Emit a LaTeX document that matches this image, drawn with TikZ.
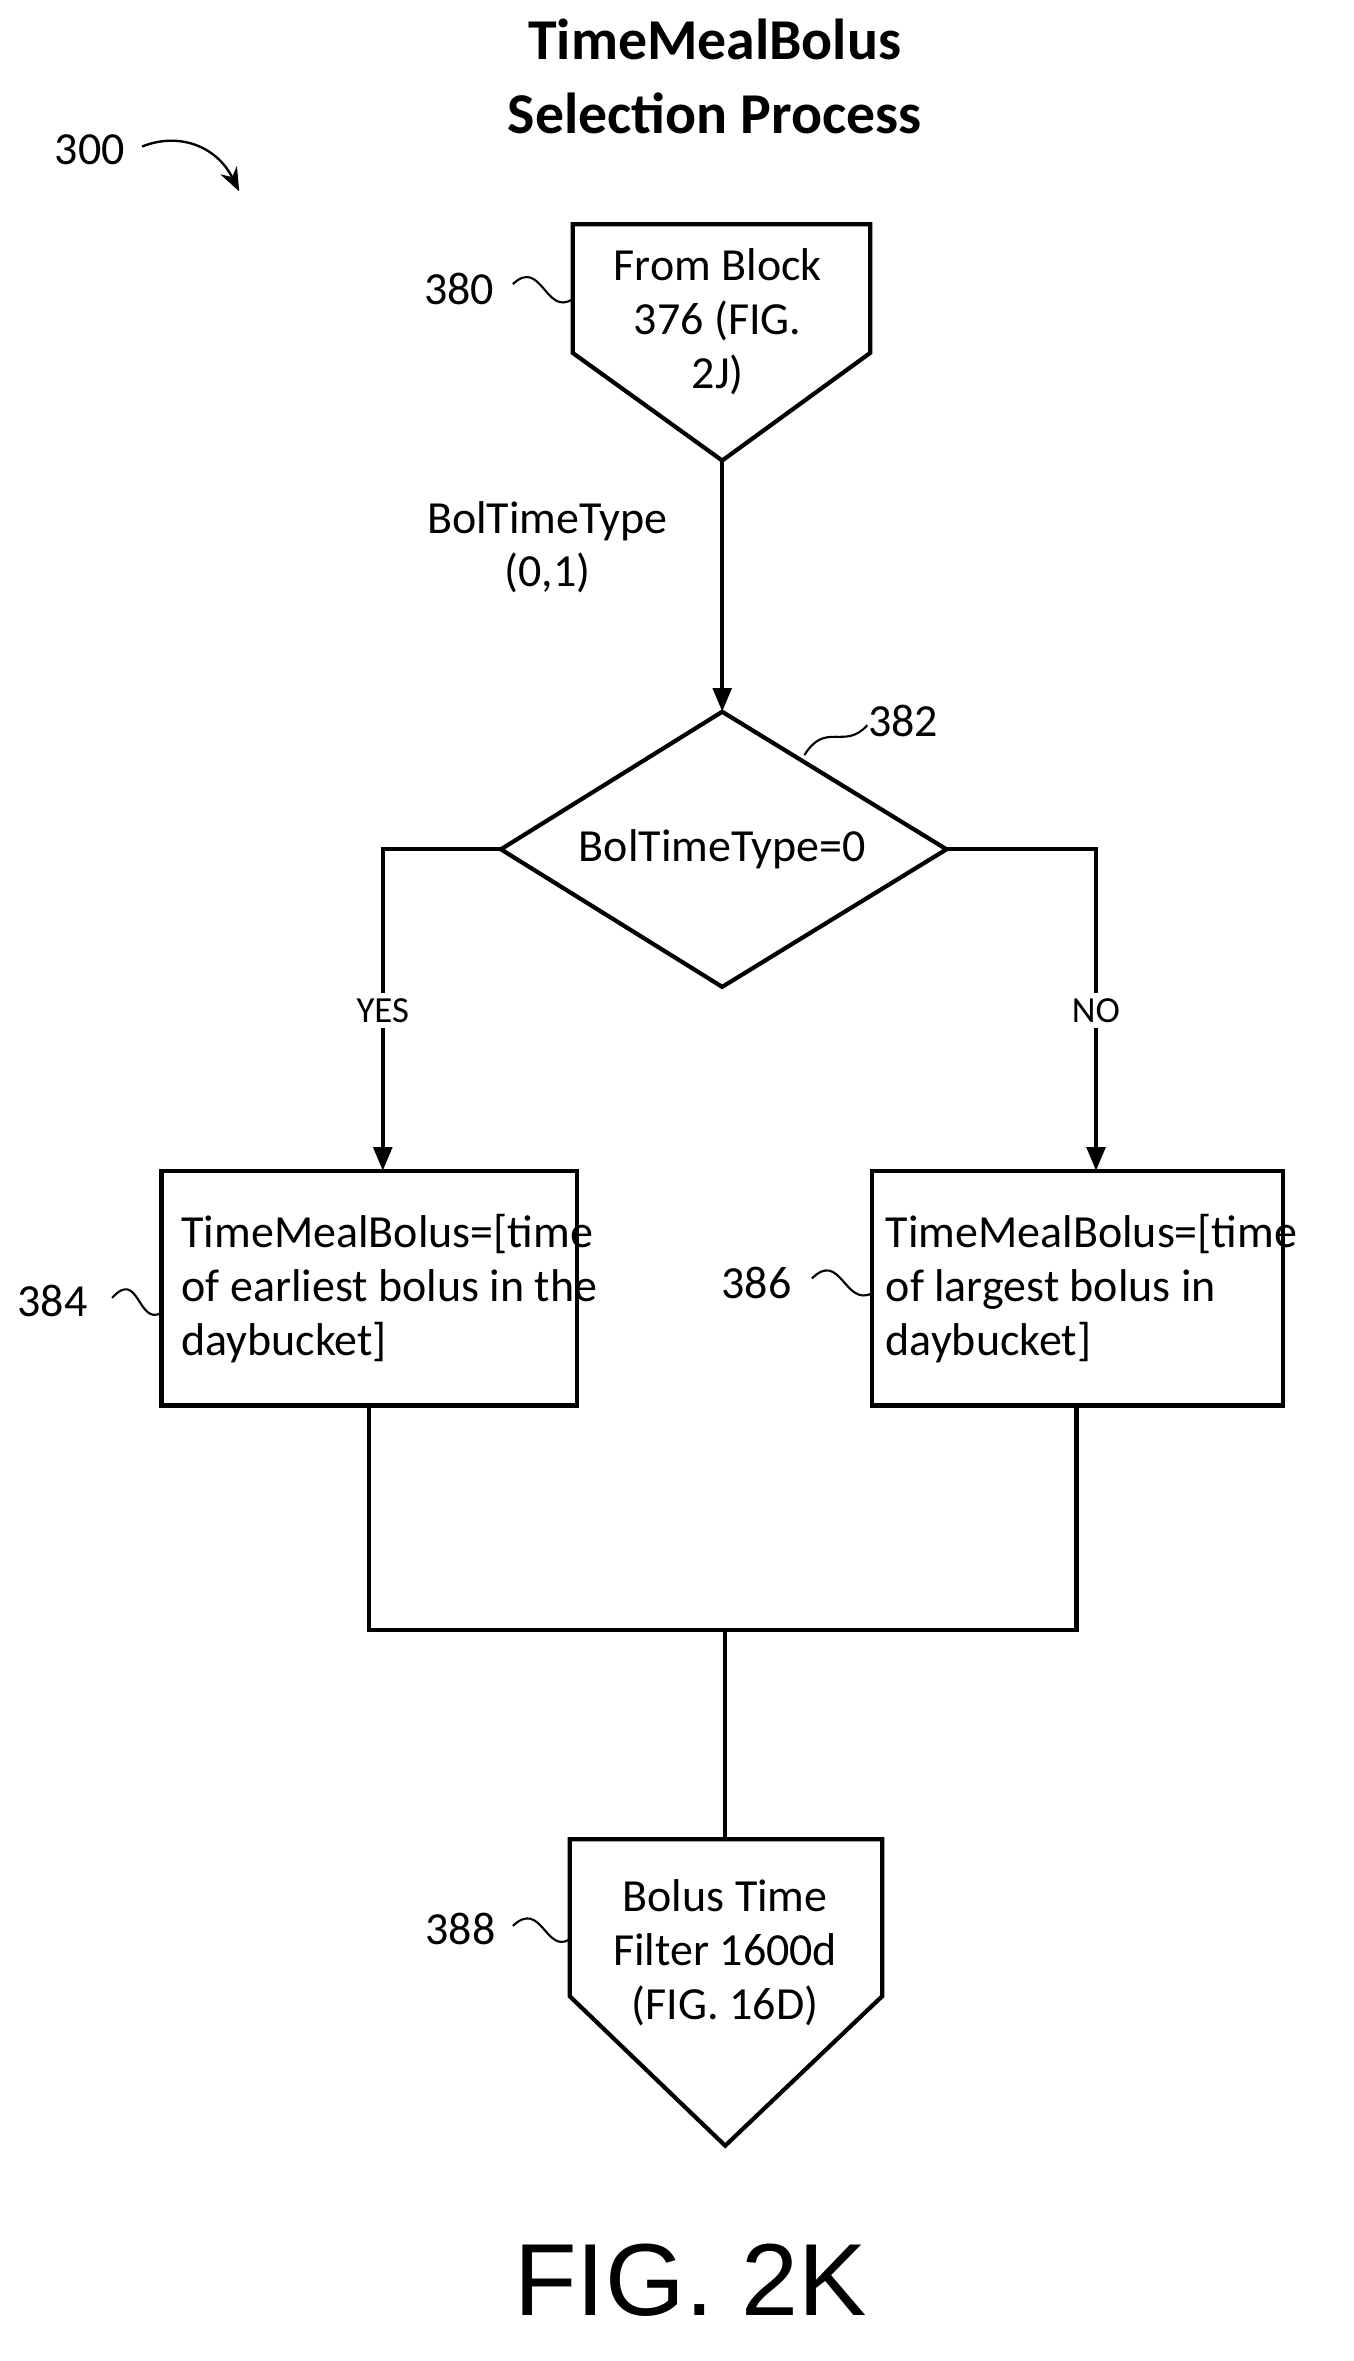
\documentclass[tikz,border=0pt]{standalone}
\usepackage{fontspec}
\setmainfont{Carlito}
\newfontfamily\arialf{Liberation Sans}
\usetikzlibrary{arrows.meta}
\begin{document}
\begin{tikzpicture}[x=0.02cm,y=-0.02cm,
  line width=1.6pt,
  txt/.style={font=\fontsize{17.5}{20.5}\selectfont,inner sep=0pt,align=center},
  arr/.style={-{Triangle[length=9pt,width=7pt]}},
  sq/.style={line width=0.8pt}]
\useasboundingbox (0,0) rectangle (905,1579);
% title
\node[font=\bfseries\fontsize{22}{26}\selectfont,align=center] (title) at (478,51) {TimeMealBolus\\[2pt]Selection Process};
\node[txt] (n300) at (60,100) {300};
\draw[line width=0.9pt,-{Stealth[length=9pt,width=7pt]}] (95,98) .. controls (120,88) and (145,98) .. (160,128);
% top pentagon
\draw (383,150) -- (582,150) -- (582,236) -- (483,308) -- (383,236) -- cycle;
\coordinate (p1) at (483,308);
\node[txt] (b380) at (480,215) {From Block\\376 (FIG.\\2J)};
\node[txt] (l380) at (307,193) {380};
\draw[sq] (343,190) .. controls (362,172) and (365,212) .. (383,200);
\node[txt] (lbl1) at (366,366) {BolTimeType\\(0,1)};
% diamond
\coordinate (dt) at (483,476); \coordinate (dl) at (335,568);
\coordinate (dr) at (633,568); \coordinate (db) at (483,660);
\draw (dt) -- (dr) -- (db) -- (dl) -- cycle;
\node[txt] (d382) at (483,568) {BolTimeType=0};
\draw[arr] (p1) -- (dt);
\node[txt] (l382) at (604,482) {382};
\draw[sq] (538,505) .. controls (552,482) and (565,502) .. (580,485);
% boxes
\draw (108,783) rectangle (386,940);
\node[txt,align=left,anchor=west] (b384) at (120,862) {TimeMealBolus=[time\\of earliest bolus in the\\daybucket]};
\draw (583,783) rectangle (858,940);
\node[txt,align=left,anchor=west] (b386) at (591,862) {TimeMealBolus=[time\\of largest bolus in\\daybucket]};
\node[txt] (l384) at (35,870) {384};
\draw[sq] (75,868) .. controls (93,848) and (92,887) .. (108,878);
\node[txt] (l386) at (506,858) {386};
\draw[sq] (543,855) .. controls (562,836) and (565,874) .. (583,865);
\draw[arr] (dl) -- (256,568) -- (256,783);
\draw[arr] (dr) -- (733,568) -- (733,783);
\node[txt,fill=white,inner sep=2pt,font=\fontsize{14}{16}\selectfont] (yes) at (256,676) {YES};
\node[txt,fill=white,inner sep=2pt,font=\fontsize{14}{16}\selectfont] (no) at (733,676) {NO};
% merge
\draw (247,940) -- (247,1090) -- (720,1090) -- (720,940);
\draw (485,1090) -- (485,1230);
% bottom pentagon
\draw (381,1230) -- (590,1230) -- (590,1335) -- (485,1435) -- (381,1335) -- cycle;
\node[txt] (b388) at (485,1306) {Bolus Time\\Filter 1600d\\(FIG. 16D)};
\node[txt] (l388) at (308,1290) {388};
\draw[sq] (343,1288) .. controls (362,1270) and (365,1307) .. (381,1297);
\node[font=\arialf\fontsize{39}{43}\selectfont] (fig) at (462,1525) {FIG. 2K};
\end{tikzpicture}
\end{document}
